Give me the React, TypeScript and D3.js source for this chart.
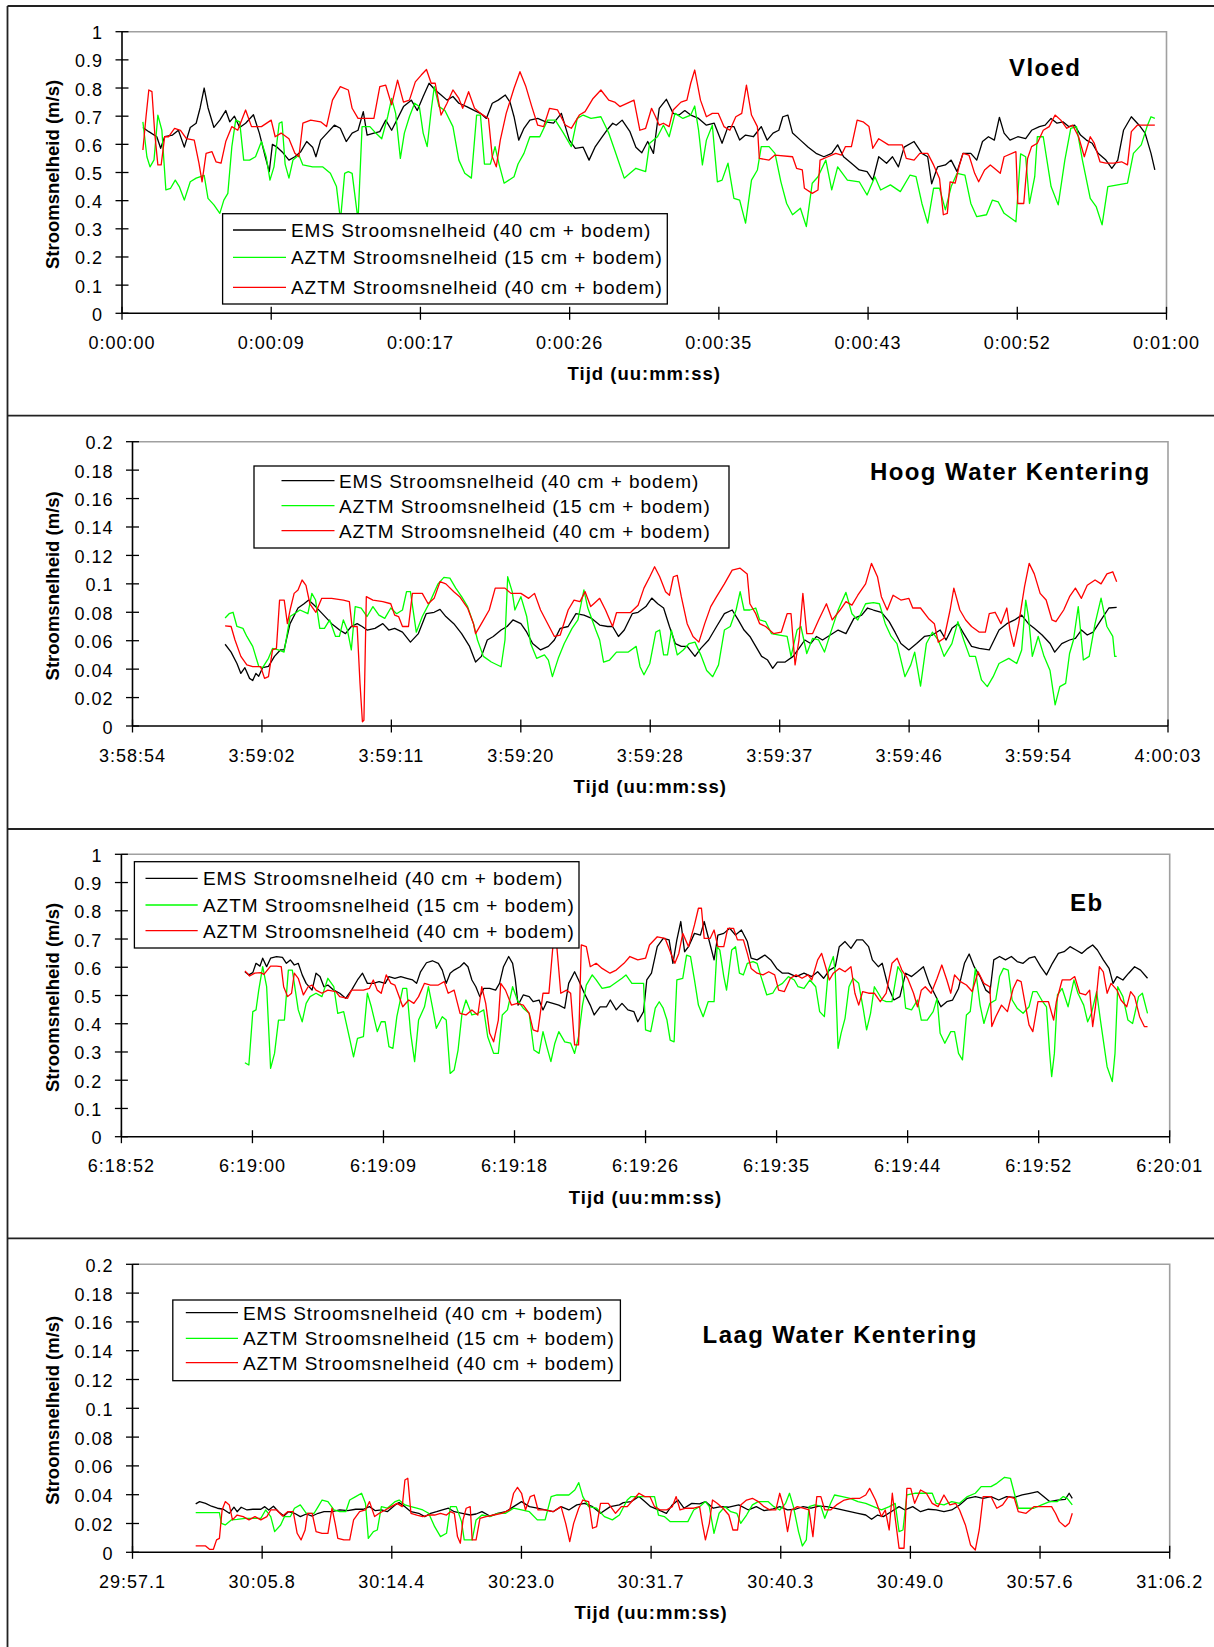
import React from "react";
import * as d3 from "d3";

// ---------------- DATA (time in seconds from axis start, speed in m/s) ----------------
const vloedTicks = ["0:00:00", "0:00:09", "0:00:17", "0:00:26", "0:00:35", "0:00:43", "0:00:52", "0:01:00"];
const hoogTicks = ["3:58:54", "3:59:02", "3:59:11", "3:59:20", "3:59:28", "3:59:37", "3:59:46", "3:59:54", "4:00:03"];
const ebTicks = ["6:18:52", "6:19:00", "6:19:09", "6:19:18", "6:19:26", "6:19:35", "6:19:44", "6:19:52", "6:20:01"];
const laagTicks = ["29:57.1", "30:05.8", "30:14.4", "30:23.0", "30:31.7", "30:40.3", "30:49.0", "30:57.6", "31:06.2"];

const seriesNames = [
  "EMS Stroomsnelheid (40 cm + bodem)",
  "AZTM Stroomsnelheid (15 cm + bodem)",
  "AZTM Stroomsnelheid (40 cm + bodem)",
];

const vloedEMS = [1.2,.66, 1.54,.645, 2.0,.627, 2.22,.586, 2.45,.627, 2.9,.633, 3.24,.65, 3.58,.59, 3.92,.66, 4.26,.675, 4.49,.73, 4.72,.80, 4.94,.73, 5.28,.66, 5.62,.686, 5.96,.72, 6.19,.68, 6.46,.70, 6.76,.66, 7.1,.675, 7.55,.705, 7.89,.64, 8.23,.556, 8.46,.503, 8.64,.60, 8.91,.59, 9.25,.57, 9.59,.544, 9.93,.556, 10.27,.574, 10.61,.61, 10.95,.59, 11.14,.556, 11.41,.615, 11.86,.645, 12.2,.668, 12.54,.657, 12.88,.61, 13.22,.64, 13.56,.65, 13.86,.716, 14.08,.633, 14.47,.64, 14.81,.645, 15.15,.686, 15.49,.65, 15.83,.692, 16.17,.734, 16.62,.757, 16.96,.72, 17.3,.77, 17.64,.817, 17.99,.793, 18.33,.775, 18.67,.757, 19.01,.77, 19.35,.746, 19.8,.734, 20.25,.72, 20.59,.71, 20.93,.692, 21.27,.746, 21.61,.757, 22.02,.775, 22.29,.75, 22.52,.698, 22.79,.615, 23.09,.657, 23.43,.686, 23.88,.692, 24.34,.68, 24.79,.675, 25.24,.71, 25.7,.615, 26.04,.586, 26.49,.59, 26.83,.544, 27.17,.59, 27.51,.62, 27.85,.65, 28.19,.675, 28.39,.668, 28.73,.686, 29.18,.645, 29.52,.59, 29.86,.57, 30.2,.61, 30.53,.568, 30.86,.728, 31.27,.76, 31.66,.71, 32.0,.704, 32.33,.72, 32.67,.704, 33.12,.692, 33.57,.668, 34.02,.675, 34.47,.604, 34.81,.663, 35.15,.663, 35.48,.615, 35.82,.633, 36.27,.627, 36.72,.663, 37.06,.615, 37.4,.64, 37.73,.65, 37.96,.698, 38.25,.704, 38.52,.64, 38.97,.615, 39.42,.59, 39.87,.568, 40.32,.556, 40.77,.568, 41.11,.598, 41.45,.556, 41.9,.533, 42.35,.509, 42.8,.503, 43.13,.473, 43.47,.556, 43.92,.533, 44.26,.556, 44.6,.52, 44.93,.59, 45.5,.61, 45.95,.568, 46.28,.556, 46.51,.46, 46.85,.52, 47.3,.527, 47.63,.544, 47.97,.503, 48.31,.568, 48.76,.568, 49.1,.544, 49.43,.61, 49.77,.627, 50.11,.615, 50.4,.696, 50.67,.64, 51.01,.615, 51.46,.627, 51.91,.62, 52.25,.65, 52.7,.663, 53.03,.668, 53.37,.692, 53.71,.675, 54.05,.68, 54.38,.663, 54.72,.668, 55.06,.633, 55.4,.615, 55.73,.604, 56.07,.568, 56.52,.544, 56.86,.515, 57.2,.544, 57.53,.65, 57.98,.698, 58.43,.668, 58.77,.64, 59.11,.568, 59.33,.509];
const vloedAZTM15 = [1.2,.68, 1.43,.556, 1.61,.52, 1.84,.545, 2.06,.704, 2.29,.65, 2.52,.438, 2.79,.444, 3.06,.473, 3.29,.45, 3.58,.402, 3.92,.467, 4.26,.48, 4.72,.49, 4.94,.408, 5.28,.385, 5.62,.355, 5.85,.402, 6.08,.426, 6.31,.592, 6.53,.686, 6.76,.68, 6.99,.544, 7.33,.544, 7.67,.556, 8.01,.61, 8.28,.556, 8.5,.473, 8.73,.52, 9.03,.675, 9.19,.68, 9.37,.53, 9.59,.48, 9.82,.544, 10.16,.562, 10.39,.527, 10.95,.52, 11.52,.52, 11.97,.497, 12.32,.45, 12.55,.33, 12.79,.497, 13.0,.503, 13.22,.497, 13.56,.33, 13.79,.663, 14.24,.663, 14.58,.64, 14.92,.62, 15.26,.698, 15.49,.763, 15.72,.71, 15.99,.55, 16.22,.64, 16.51,.698, 16.81,.746, 17.08,.734, 17.3,.64, 17.53,.592, 17.76,.72, 17.94,.805, 18.21,.734, 18.55,.72, 19.01,.663, 19.35,.544, 19.69,.497, 20.07,.48, 20.37,.704, 20.59,.704, 20.82,.53, 21.16,.53, 21.43,.592, 21.66,.53, 21.95,.462, 22.52,.485, 22.75,.53, 23.09,.568, 23.43,.627, 24.0,.627, 24.45,.686, 24.89,.686, 25.36,.64, 25.81,.592, 26.15,.692, 26.49,.704, 26.94,.692, 27.51,.698, 27.96,.64, 28.3,.58, 28.85,.48, 29.18,.497, 29.52,.515, 30.08,.503, 30.31,.604, 30.76,.627, 31.1,.668, 31.43,.627, 31.77,.71, 32.22,.692, 32.67,.704, 32.9,.736, 33.12,.65, 33.34,.527, 33.57,.615, 33.91,.668, 34.2,.467, 34.47,.473, 34.81,.533, 35.15,.408, 35.48,.402, 35.82,.32, 36.16,.473, 36.5,.509, 36.72,.592, 37.17,.592, 37.51,.568, 37.85,.467, 38.18,.39, 38.52,.35, 38.97,.373, 39.31,.308, 39.65,.462, 39.98,.485, 40.43,.544, 40.77,.438, 41.11,.52, 41.67,.473, 42.35,.467, 42.8,.42, 43.25,.485, 43.58,.438, 44.14,.456, 44.71,.432, 45.27,.491, 45.61,.485, 45.95,.39, 46.28,.32, 46.62,.444, 46.96,.444, 47.3,.367, 47.63,.45, 47.97,.497, 48.42,.491, 48.76,.39, 49.1,.343, 49.66,.35, 50.0,.402, 50.33,.396, 50.67,.355, 51.35,.325, 51.62,.566, 51.91,.556, 52.13,.39, 52.43,.485, 52.58,.627, 52.92,.627, 53.37,.45, 53.78,.385, 54.16,.544, 54.5,.657, 54.83,.663, 55.17,.544, 55.62,.408, 55.96,.379, 56.3,.314, 56.63,.45, 57.2,.456, 57.76,.462, 58.1,.568, 58.55,.598, 58.88,.663, 59.11,.698, 59.33,.692];
const vloedAZTM40 = [1.2,.58, 1.38,.698, 1.54,.793, 1.72,.787, 1.88,.64, 2.06,.527, 2.25,.527, 2.45,.627, 2.68,.627, 3.02,.657, 3.36,.65, 3.7,.62, 4.15,.615, 4.42,.533, 4.6,.467, 4.83,.568, 5.17,.574, 5.4,.538, 5.69,.533, 5.96,.61, 6.31,.663, 6.65,.65, 7.1,.722, 7.44,.663, 8.01,.663, 8.57,.686, 8.8,.627, 9.14,.64, 9.59,.62, 9.93,.568, 10.16,.556, 10.39,.675, 10.84,.686, 11.41,.68, 11.75,.663, 12.09,.757, 12.54,.805, 13.0,.793, 13.22,.728, 13.56,.692, 14.47,.692, 14.81,.805, 15.15,.81, 15.49,.74, 15.83,.828, 16.17,.75, 16.51,.757, 16.85,.822, 17.19,.846, 17.49,.866, 17.76,.817, 17.99,.817, 18.33,.704, 18.67,.746, 19.01,.793, 19.35,.763, 19.57,.728, 19.91,.787, 20.25,.728, 20.59,.71, 21.05,.692, 21.27,.556, 21.5,.52, 21.73,.615, 22.07,.71, 22.52,.799, 22.86,.858, 23.2,.805, 23.54,.734, 23.88,.668, 24.22,.663, 24.56,.728, 25.02,.722, 25.47,.668, 25.81,.657, 26.27,.704, 26.6,.716, 27.06,.763, 27.51,.793, 27.96,.757, 28.3,.75, 28.6,.734, 29.41,.757, 29.75,.65, 30.08,.657, 30.42,.728, 30.65,.698, 30.86,.668, 31.1,.675, 31.43,.663, 31.66,.722, 32.11,.75, 32.45,.757, 32.67,.817, 32.9,.864, 33.23,.757, 33.57,.698, 33.91,.71, 34.25,.71, 34.58,.663, 34.92,.65, 35.26,.698, 35.6,.71, 35.87,.81, 36.16,.704, 36.5,.663, 36.61,.55, 37.17,.544, 37.51,.562, 38.52,.556, 38.75,.515, 39.08,.509, 39.2,.444, 39.65,.426, 39.98,.438, 40.1,.544, 40.55,.556, 41.0,.568, 41.33,.562, 41.56,.592, 41.9,.592, 42.23,.686, 42.57,.68, 42.91,.663, 43.13,.586, 43.47,.62, 44.03,.598, 44.82,.598, 45.05,.55, 45.5,.544, 45.83,.568, 46.28,.568, 46.62,.527, 46.96,.479, 47.18,.35, 47.41,.355, 47.57,.467, 47.86,.462, 48.08,.52, 48.31,.568, 48.65,.562, 48.98,.497, 49.21,.467, 49.55,.509, 49.88,.527, 50.11,.515, 50.45,.497, 50.67,.556, 51.35,.574, 51.46,.39, 51.8,.39, 52.02,.55, 52.25,.592, 52.58,.604, 52.92,.65, 53.26,.663, 53.6,.704, 53.93,.686, 54.27,.657, 54.61,.668, 54.95,.627, 55.28,.556, 55.62,.627, 55.85,.604, 56.18,.538, 56.52,.533, 56.97,.533, 57.42,.538, 57.76,.527, 57.98,.645, 58.32,.668, 59.33,.668];

const hoogEMS = [6.17,.0575, 6.57,.052, 6.96,.044, 7.22,.037, 7.49,.041, 7.8,.0335, 8.01,.032, 8.22,.037, 8.41,.035, 8.67,.041, 9.06,.042, 9.46,.049, 9.85,.0535, 10.1,.0535, 10.5,.072, 11.03,.083, 11.43,.086, 11.74,.0886, 12.2,.084, 12.74,.078, 13.27,.072, 13.8,.0675, 14.19,.065, 14.58,.07, 14.97,.072, 15.3,.07, 15.63,.0675, 16.16,.0687, 16.68,.072, 17.08,.0675, 17.47,.0687, 17.99,.066, 18.52,.059, 19.05,.065, 19.57,.079, 20.1,.08, 20.49,.082, 20.88,.077, 21.41,.072, 21.93,.065, 22.46,.056, 22.86,.045, 23.25,.049, 23.64,.0605, 24.04,.063, 24.56,.0675, 24.96,.07, 25.35,.0746, 25.88,.072, 26.27,.066, 26.66,.058, 27.19,.0535, 27.71,.056, 28.11,.0605, 28.5,.0687, 29.03,.07, 29.55,.079, 30.08,.078, 30.6,.0757, 31.13,.071, 31.66,.07, 31.99,.07, 32.38,.063, 32.77,.0675, 33.3,.079, 33.69,.08, 34.21,.084, 34.6,.09, 35.0,.086, 35.39,.083, 35.78,.07, 36.17,.058, 36.57,.056, 36.96,.056, 37.48,.049, 37.87,.0546, 38.39,.0605, 38.92,.07, 39.44,.079, 39.96,.0816, 40.36,.0746, 40.75,.0675, 41.14,.063, 41.53,.056, 41.92,.049, 42.32,.0464, 42.66,.0406, 42.97,.045, 43.49,.045, 44.02,.049, 44.41,.0546, 44.8,.0605, 45.19,.058, 45.58,.063, 45.98,.0605, 46.5,.064, 47.02,.0675, 47.54,.065, 48.07,.0757, 48.59,.078, 48.98,.083, 49.37,.0816, 49.9,.08, 50.42,.0734, 50.81,.066, 51.2,.058, 51.73,.0535, 52.25,.058, 52.77,.063, 53.3,.064, 53.82,.0675, 54.21,.0605, 54.6,.0687, 55.0,.072, 55.39,.065, 55.91,.056, 56.43,.0546, 57.09,.0535, 57.74,.0675, 58.26,.072, 58.78,.0746, 59.25,.078, 59.7,.072, 60.09,.0687, 60.61,.064, 61.14,.058, 61.45,.052, 61.92,.058, 62.44,.0605, 62.83,.0617, 63.23,.0675, 63.62,.064, 64.01,.066, 64.54,.0746, 65.06,.083, 65.58,.0835];
const hoogAZTM15 = [6.17,.076, 6.44,.079, 6.7,.08, 6.96,.07, 7.36,.0687, 7.62,.063, 8.01,.056, 8.41,.042, 8.67,.041, 9.06,.0476, 9.33,.0546, 9.72,.0535, 10.1,.052, 10.5,.077, 11.16,.0816, 11.69,.079, 11.95,.0933, 12.2,.0886, 12.48,.0687, 12.79,.0687, 13.14,.0746, 13.53,.063, 13.79,.063, 14.05,.0746, 14.32,.0675, 14.58,.0535, 14.84,.084, 15.24,.083, 15.63,.077, 16.02,.084, 16.42,.078, 16.81,.0757, 17.21,.083, 17.6,.079, 17.99,.0816, 18.26,.0945, 18.52,.0945, 18.91,.066, 19.31,.077, 19.83,.0875, 20.36,.1, 20.75,.1046, 21.15,.104, 21.54,.097, 21.93,.091, 22.33,.084, 22.72,.072, 22.99,.0605, 23.38,.049, 23.91,.045, 24.56,.0417, 24.82,.0605, 25.0,.105, 25.3,.0945, 25.48,.0816, 25.88,.091, 26.27,.077, 26.53,.058, 26.93,.0476, 27.45,.05, 27.71,.0464, 27.98,.0347, 28.37,.0476, 28.77,.058, 29.29,.0687, 29.68,.0746, 30.08,.0957, 30.34,.083, 30.87,.0675, 31.13,.0605, 31.39,.045, 31.79,.0464, 32.25,.052, 33.04,.052, 33.56,.056, 33.82,.0417, 34.08,.036, 34.47,.044, 34.87,.066, 35.13,.0675, 35.39,.05, 35.65,.05, 35.91,.0675, 36.3,.05, 36.7,.0535, 37.09,.058, 37.48,.059, 37.87,.05, 38.26,.039, 38.66,.0347, 39.05,.043, 39.44,.0675, 39.83,.07, 40.22,.0816, 40.49,.0945, 40.75,.0816, 41.14,.0816, 41.53,.083, 41.79,.0746, 42.19,.0734, 42.58,.065, 43.1,.064, 43.62,.063, 43.88,.049, 44.28,.0675, 44.54,.07, 44.93,.051, 45.32,.0617, 45.72,.0605, 46.11,.052, 46.5,.065, 47.02,.0816, 47.54,.094, 47.94,.079, 48.33,.0746, 48.85,.086, 49.37,.0868, 49.77,.086, 50.16,.072, 50.55,.063, 50.94,.058, 51.47,.0347, 51.86,.043, 52.12,.052, 52.51,.028, 52.9,.058, 53.3,.066, 53.69,.0605, 54.08,.049, 54.6,.058, 55.0,.0734, 55.39,.0605, 55.78,.049, 56.17,.049, 56.57,.0324, 56.96,.0277, 57.35,.0347, 57.74,.044, 58.39,.0476, 58.92,.044, 59.25,.0535, 59.52,.0886, 59.7,.077, 59.96,.049, 60.35,.063, 60.74,.049, 61.14,.039, 61.48,.0148, 61.79,.0277, 62.18,.03, 62.44,.051, 62.7,.0605, 63.02,.084, 63.36,.0464, 63.75,.049, 64.14,.072, 64.54,.09, 64.93,.07, 65.32,.063, 65.45,.049, 65.58,.049];
const hoogAZTM40 = [6.17,.0704, 6.57,.07, 6.83,.0605, 7.22,.049, 7.62,.043, 8.01,.0417, 8.54,.0417, 8.8,.0335, 9.06,.0347, 9.33,.0535, 9.59,.0546, 9.8,.0886, 10.11,.0886, 10.32,.072, 10.5,.0816, 10.77,.0933, 11.03,.0957, 11.3,.1027, 11.56,.099, 11.82,.086, 12.22,.08, 12.61,.0898, 13.27,.0898, 14.05,.0886, 14.45,.0875, 14.63,.07, 14.97,.07, 15.16,.03, 15.32,.003, 15.42,.004, 15.58,.091, 16.02,.0886, 16.68,.0875, 17.21,.086, 17.47,.078, 17.73,.077, 17.99,.07, 18.39,.07, 18.65,.0933, 19.31,.0933, 19.7,.086, 20.1,.0898, 20.49,.1015, 20.88,.1, 21.41,.0945, 21.8,.091, 22.33,.083, 22.72,.072, 22.86,.065, 23.25,.072, 23.77,.0816, 24.17,.097, 24.82,.097, 25.22,.0933, 25.88,.0933, 26.4,.0898, 26.79,.0933, 27.19,.0816, 27.71,.071, 28.11,.063, 28.5,.064, 29.03,.0816, 29.42,.0886, 29.82,.0875, 30.16,.0945, 30.53,.084, 30.74,.086, 31.13,.0898, 31.52,.0816, 31.99,.07, 32.25,.0797, 33.17,.0797, 33.69,.085, 34.08,.097, 34.47,.105, 34.79,.112, 35.13,.105, 35.52,.0945, 35.78,.092, 36.04,.105, 36.3,.106, 36.57,.091, 36.96,.072, 37.35,.063, 37.74,.059, 38.13,.072, 38.53,.084, 38.92,.091, 39.44,.1, 39.96,.1097, 40.49,.111, 40.96,.107, 41.14,.086, 41.53,.079, 41.79,.072, 42.19,.07, 42.71,.065, 43.23,.066, 43.62,.079, 43.88,.079, 44.15,.043, 44.41,.0605, 44.67,.0933, 44.93,.065, 45.32,.065, 45.72,.0746, 46.24,.086, 46.63,.0746, 47.15,.0816, 47.54,.0875, 47.94,.085, 48.33,.092, 48.85,.1, 49.24,.1144, 49.64,.105, 49.9,.091, 50.29,.0816, 50.68,.092, 51.2,.0886, 51.73,.0898, 51.99,.083, 52.51,.083, 53.04,.0757, 53.43,.072, 53.69,.059, 54.08,.0617, 54.48,.0816, 54.73,.097, 55.13,.0816, 55.52,.0746, 55.91,.07, 56.43,.066, 56.83,.066, 57.09,.079, 57.48,.08, 57.87,.072, 58.26,.083, 58.47,.0675, 58.73,.056, 59.05,.072, 59.44,.098, 59.75,.1144, 60.09,.107, 60.48,.0933, 60.88,.0886, 61.27,.0746, 61.53,.0734, 62.05,.0816, 62.44,.091, 62.83,.097, 63.23,.0898, 63.62,.099, 64.14,.1027, 64.54,.1, 64.93,.107, 65.32,.1085, 65.58,.1015];

const ebEMS = [8.13,.584, 8.39,.573, 8.65,.581, 8.86,.614, 9.12,.604, 9.3,.632, 9.56,.602, 9.82,.632, 10.21,.638, 10.6,.635, 10.86,.614, 11.12,.626, 11.38,.608, 11.64,.614, 11.9,.573, 12.16,.543, 12.55,.519, 12.81,.579, 13.07,.567, 13.33,.531, 13.59,.537, 13.98,.519, 14.37,.508, 14.76,.49, 15.15,.519, 15.54,.555, 15.87,.579, 16.19,.543, 16.58,.543, 16.96,.549, 17.36,.543, 17.61,.567, 18.0,.561, 18.39,.567, 18.78,.561, 19.17,.555, 19.43,.543, 19.69,.584, 20.08,.616, 20.47,.623, 20.86,.614, 21.12,.59, 21.38,.543, 21.64,.579, 21.9,.59, 22.29,.602, 22.55,.616, 22.81,.602, 23.07,.555, 23.33,.531, 23.59,.496, 23.85,.525, 24.24,.525, 24.63,.519, 24.89,.543, 25.15,.602, 25.49,.638, 25.75,.614, 25.93,.555, 26.11,.466, 26.45,.502, 26.84,.496, 27.1,.478, 27.49,.484, 27.75,.449, 28.0,.478, 28.4,.472, 28.79,.466, 29.18,.455, 29.44,.543, 29.83,.584, 30.09,.555, 30.47,.508, 30.86,.466, 31.12,.431, 31.51,.46, 31.93,.46, 32.18,.484, 32.57,.449, 32.95,.472, 33.34,.449, 33.73,.443, 33.99,.407, 34.37,.443, 34.58,.555, 34.89,.579, 35.27,.673, 35.66,.702, 36.05,.697, 36.3,.614, 36.56,.697, 36.82,.762, 37.07,.655, 37.33,.673, 37.72,.72, 38.11,.714, 38.36,.762, 38.62,.708, 39.01,.626, 39.26,.714, 39.65,.72, 40.04,.738, 40.42,.714, 40.81,.732, 41.2,.691, 41.45,.632, 41.84,.626, 42.35,.643, 42.74,.626, 43.13,.596, 43.51,.579, 43.9,.579, 44.41,.567, 44.93,.579, 45.44,.567, 45.83,.584, 46.22,.561, 46.6,.59, 46.99,.602, 47.25,.673, 47.63,.691, 48.02,.667, 48.4,.697, 48.79,.697, 49.18,.673, 49.43,.626, 49.82,.602, 50.08,.614, 50.47,.531, 50.85,.484, 51.24,.496, 51.62,.579, 52.01,.567, 52.4,.584, 52.79,.602, 53.17,.543, 53.56,.502, 53.94,.46, 54.33,.478, 54.71,.484, 55.1,.525, 55.49,.614, 55.8,.647, 56.13,.602, 56.52,.567, 56.9,.519, 57.16,.508, 57.42,.626, 57.8,.638, 58.19,.626, 58.58,.638, 58.96,.62, 59.35,.614, 59.74,.632, 60.12,.638, 60.51,.602, 60.89,.573, 61.28,.614, 61.67,.649, 62.05,.655, 62.44,.673, 62.83,.661, 63.21,.649, 63.6,.667, 63.93,.679, 64.24,.661, 64.63,.626, 65.01,.596, 65.27,.543, 65.53,.567, 65.92,.555, 66.3,.579, 66.69,.602, 67.08,.59, 67.54,.561];
const ebAZTM15 = [8.13,.262, 8.39,.254, 8.65,.443, 8.86,.449, 9.04,.519, 9.3,.602, 9.56,.531, 9.82,.242, 10.08,.295, 10.34,.413, 10.73,.413, 10.99,.59, 11.25,.59, 11.64,.449, 11.9,.407, 12.16,.472, 12.42,.496, 12.81,.508, 13.2,.496, 13.59,.561, 13.98,.531, 14.24,.437, 14.63,.443, 15.02,.348, 15.28,.283, 15.54,.348, 15.93,.354, 16.19,.508, 16.45,.46, 16.84,.372, 17.1,.407, 17.36,.407, 17.61,.319, 17.87,.313, 18.13,.425, 18.52,.525, 18.78,.525, 19.04,.366, 19.3,.266, 19.56,.413, 19.95,.46, 20.21,.531, 20.47,.46, 20.73,.384, 21.12,.425, 21.38,.413, 21.64,.224, 21.9,.236, 22.16,.307, 22.42,.437, 22.68,.484, 23.07,.431, 23.46,.437, 23.85,.449, 24.11,.354, 24.5,.295, 24.81,.295, 25.07,.431, 25.41,.449, 25.75,.531, 26.06,.484, 26.45,.455, 26.84,.437, 27.15,.307, 27.49,.295, 27.75,.372, 28.0,.319, 28.27,.266, 28.53,.331, 28.79,.372, 29.18,.336, 29.57,.331, 29.83,.295, 30.09,.354, 30.35,.466, 30.6,.537, 30.99,.573, 31.25,.555, 31.64,.525, 32.16,.531, 32.95,.561, 33.21,.573, 33.6,.543, 34.37,.543, 34.5,.378, 34.84,.372, 35.14,.455, 35.4,.478, 35.66,.455, 35.91,.413, 36.12,.342, 36.38,.336, 36.56,.555, 36.95,.561, 37.2,.643, 37.46,.638, 37.72,.555, 37.98,.466, 38.29,.425, 38.62,.478, 39.01,.478, 39.21,.673, 39.39,.661, 39.65,.567, 39.83,.519, 40.17,.661, 40.42,.673, 40.68,.579, 40.94,.573, 41.2,.614, 41.58,.62, 41.84,.614, 42.1,.567, 42.48,.502, 42.87,.508, 43.13,.531, 43.51,.543, 43.9,.567, 44.29,.555, 44.54,.531, 44.93,.525, 45.32,.555, 45.7,.531, 45.96,.443, 46.27,.425, 46.53,.59, 46.86,.638, 46.99,.579, 47.17,.313, 47.37,.366, 47.63,.419, 47.89,.531, 48.15,.561, 48.53,.543, 48.84,.449, 49.05,.378, 49.31,.437, 49.56,.531, 49.82,.508, 50.08,.484, 50.34,.478, 50.72,.478, 51.11,.602, 51.37,.579, 51.62,.455, 52.01,.449, 52.4,.484, 52.65,.413, 53.04,.413, 53.43,.443, 53.69,.49, 53.89,.366, 54.2,.331, 54.59,.372, 54.84,.372, 55.1,.295, 55.36,.272, 55.62,.431, 55.87,.443, 56.21,.596, 56.52,.466, 56.77,.401, 57.16,.472, 57.55,.484, 57.8,.567, 58.06,.596, 58.37,.59, 58.63,.484, 58.96,.455, 59.35,.437, 59.74,.46, 59.99,.514, 60.25,.514, 60.64,.478, 60.89,.46, 61.1,.295, 61.23,.213, 61.41,.295, 61.61,.502, 61.92,.525, 62.31,.46, 62.7,.555, 62.96,.508, 63.34,.466, 63.6,.407, 63.85,.437, 64.19,.514, 64.44,.413, 64.88,.248, 65.22,.195, 65.4,.295, 65.58,.531, 65.92,.496, 66.25,.413, 66.56,.401, 66.95,.496, 67.2,.508, 67.54,.437];
const ebAZTM40 = [8.13,.587, 8.44,.569, 8.78,.579, 9.17,.581, 9.38,.575, 9.82,.604, 10.21,.604, 10.52,.602, 10.68,.531, 10.94,.496, 11.2,.508, 11.38,.579, 11.64,.561, 11.98,.502, 12.29,.531, 12.55,.537, 12.81,.519, 13.2,.508, 13.59,.519, 14.11,.514, 14.37,.496, 14.89,.49, 15.15,.519, 15.93,.519, 16.32,.525, 16.58,.555, 16.84,.519, 17.1,.508, 17.43,.573, 17.74,.543, 18.0,.537, 18.32,.49, 18.52,.46, 18.91,.484, 19.25,.472, 19.56,.496, 19.95,.543, 20.34,.537, 20.86,.537, 21.25,.549, 21.51,.508, 21.9,.519, 22.29,.437, 22.68,.431, 23.07,.449, 23.46,.431, 23.72,.531, 23.98,.472, 24.24,.366, 24.5,.336, 24.81,.413, 24.97,.543, 25.28,.519, 25.67,.466, 26.06,.472, 26.45,.466, 26.84,.437, 27.1,.378, 27.41,.372, 27.75,.508, 28.14,.508, 28.4,.673, 28.66,.673, 28.92,.508, 29.3,.519, 29.57,.508, 29.83,.325, 30.09,.325, 30.27,.679, 30.6,.673, 30.86,.602, 31.25,.614, 31.64,.596, 32.16,.579, 32.57,.59, 33.08,.614, 33.47,.638, 33.99,.626, 34.5,.632, 34.76,.679, 35.27,.708, 35.79,.702, 36.17,.649, 36.43,.614, 36.69,.649, 36.95,.72, 37.33,.673, 37.72,.75, 37.98,.809, 38.18,.809, 38.36,.702, 38.75,.702, 39.01,.732, 39.26,.673, 39.65,.673, 39.91,.738, 40.29,.738, 40.55,.697, 40.94,.697, 41.2,.649, 41.45,.596, 41.84,.579, 42.23,.573, 42.61,.584, 43.0,.573, 43.26,.519, 43.64,.514, 44.03,.561, 44.41,.573, 44.8,.561, 45.19,.573, 45.44,.555, 45.83,.626, 46.09,.649, 46.35,.602, 46.6,.555, 46.86,.579, 47.25,.596, 47.63,.584, 48.02,.602, 48.28,.508, 48.53,.466, 48.79,.514, 49.18,.508, 49.56,.508, 49.95,.478, 50.34,.508, 50.72,.614, 51.06,.632, 51.37,.59, 51.75,.561, 52.14,.508, 52.4,.46, 52.65,.519, 52.91,.531, 53.3,.508, 53.69,.561, 54.0,.608, 54.33,.555, 54.59,.508, 54.84,.573, 55.23,.549, 55.62,.537, 56.0,.514, 56.39,.584, 56.77,.543, 57.16,.531, 57.29,.39, 57.55,.425, 57.93,.466, 58.32,.443, 58.7,.525, 58.96,.555, 59.22,.549, 59.48,.472, 59.74,.396, 59.99,.372, 60.33,.478, 61.02,.478, 61.36,.413, 61.54,.478, 61.92,.555, 62.44,.555, 62.75,.567, 63.08,.508, 63.47,.502, 63.73,.519, 63.93,.39, 64.11,.46, 64.37,.602, 64.63,.584, 64.88,.508, 65.14,.543, 65.53,.519, 65.79,.484, 66.17,.46, 66.43,.514, 66.69,.496, 67.02,.425, 67.33,.39, 67.54,.39];

const laagEMS = [4.21,.0336, 4.47,.0352, 4.87,.034, 5.26,.032, 5.66,.0306, 6.05,.0299, 6.45,.0271, 6.76,.0313, 6.97,.0282, 7.24,.0313, 7.63,.0294, 8.02,.0299, 8.55,.0299, 8.81,.0317, 9.08,.0294, 9.39,.032, 9.73,.0282, 10.08,.0252, 10.39,.0282, 10.79,.0271, 11.18,.0248, 11.58,.0266, 11.97,.0252, 12.37,.0271, 12.76,.0282, 13.29,.0282, 13.81,.0294, 14.34,.0289, 14.87,.0299, 15.39,.0299, 15.79,.0317, 16.18,.0289, 16.58,.0294, 16.97,.0282, 17.5,.0329, 17.76,.0345, 18.15,.0317, 18.55,.0282, 19.07,.0271, 19.47,.0248, 19.86,.0271, 20.26,.0282, 20.65,.0294, 21.05,.0306, 21.44,.0282, 21.97,.0271, 22.5,.0259, 22.89,.0266, 23.28,.0282, 23.81,.0252, 24.34,.0271, 24.86,.0282, 25.39,.0317, 25.92,.0352, 26.44,.0317, 26.97,.0306, 27.49,.0294, 28.02,.0282, 28.55,.0317, 29.07,.0294, 29.6,.0329, 30.12,.034, 30.65,.0317, 31.18,.0271, 31.83,.0317, 32.44,.0329, 32.7,.0345, 33.22,.0352, 33.74,.0387, 34.13,.0352, 34.52,.0317, 35.04,.0294, 35.57,.0271, 35.96,.0329, 36.35,.0363, 36.74,.0306, 37.26,.034, 37.78,.0336, 38.17,.0352, 38.69,.0306, 39.21,.0317, 39.73,.0313, 40.39,.0329, 41.04,.0294, 41.56,.0317, 42.08,.0289, 42.6,.0299, 43.12,.0317, 43.64,.0294, 44.16,.0299, 44.68,.0317, 45.2,.0306, 45.73,.032, 46.25,.0317, 46.77,.0306, 47.29,.0294, 47.81,.0282, 48.33,.0271, 48.85,.0259, 49.24,.0229, 49.64,.0259, 50.02,.0248, 50.54,.0282, 51.07,.0317, 51.46,.0294, 51.98,.0317, 52.5,.0282, 53.02,.0299, 53.54,.0294, 54.06,.0282, 54.58,.0294, 55.1,.0329, 55.62,.0375, 56.15,.0387, 56.67,.0375, 57.19,.0387, 57.71,.0363, 58.23,.0387, 58.75,.0382, 59.27,.0398, 59.79,.041, 60.31,.0421, 60.7,.0387, 61.1,.0352, 61.62,.0363, 62.14,.0368, 62.4,.041, 62.61,.0375];
const laagAZTM15 = [4.21,.0275, 5.79,.0275, 5.92,.0201, 6.18,.019, 6.58,.0225, 6.97,.0229, 7.5,.0236, 8.55,.0236, 8.87,.0294, 9.21,.0248, 9.47,.0144, 9.87,.019, 10.13,.0248, 10.52,.0248, 10.79,.0306, 11.18,.0329, 11.58,.0271, 12.1,.0271, 12.37,.0317, 12.63,.0363, 13.02,.0352, 13.42,.0294, 13.81,.0282, 14.21,.0282, 14.47,.0363, 14.87,.0387, 15.26,.041, 15.52,.034, 15.71,.0097, 16.05,.0144, 16.31,.0155, 16.58,.0317, 16.97,.0306, 17.23,.0329, 17.5,.0352, 17.76,.0363, 18.15,.0329, 18.55,.0317, 18.94,.0306, 19.34,.0294, 19.73,.0271, 20.13,.0178, 20.52,.0109, 20.92,.0132, 21.18,.0317, 21.57,.0317, 21.92,.0213, 22.1,.0086, 22.63,.0086, 22.89,.0225, 23.28,.0259, 23.81,.0248, 24.34,.0271, 24.86,.0271, 25.39,.0306, 25.92,.0294, 26.44,.0282, 26.97,.0225, 27.49,.0225, 27.89,.0387, 28.28,.0398, 29.07,.0398, 29.47,.0433, 29.73,.0484, 30.0,.0387, 30.39,.0317, 30.92,.0306, 31.44,.0248, 31.97,.0225, 32.44,.0259, 32.96,.0363, 33.22,.0387, 34.78,.0387, 35.04,.0259, 35.43,.0248, 35.83,.0213, 37.0,.0213, 37.39,.0294, 37.78,.0317, 38.17,.0352, 38.43,.0317, 38.74,.0132, 39.08,.0271, 39.47,.0317, 39.86,.0282, 40.26,.0271, 40.52,.0201, 40.91,.0259, 41.3,.0329, 41.69,.0352, 42.34,.0352, 42.73,.0317, 43.12,.0294, 43.51,.034, 43.77,.041, 44.03,.0317, 44.37,.0144, 44.63,.0044, 44.89,.0086, 45.07,.0317, 45.46,.0329, 45.86,.032, 46.12,.0236, 46.51,.034, 46.77,.0398, 47.29,.0387, 47.81,.0375, 48.33,.0352, 48.85,.034, 49.37,.0317, 49.9,.0294, 50.42,.0317, 50.81,.034, 51.07,.0144, 51.33,.0155, 51.59,.0398, 52.11,.041, 53.28,.041, 53.54,.034, 54.06,.0329, 54.58,.0352, 55.1,.034, 55.62,.0387, 56.15,.041, 56.54,.0456, 57.19,.0456, 57.58,.0479, 58.1,.0521, 58.49,.0514, 58.75,.041, 59.01,.0306, 60.05,.0306, 60.57,.0329, 61.1,.0352, 61.62,.0352, 62.01,.0387, 62.27,.0375, 62.61,.0329];
const laagAZTM40 = [4.21,.0044, 4.87,.0044, 5.13,.0021, 5.39,.0021, 5.6,.0086, 5.79,.0097, 5.97,.0294, 6.18,.0352, 6.45,.0329, 6.66,.0225, 6.97,.0259, 7.37,.0248, 7.76,.0225, 8.16,.0248, 8.55,.0225, 8.95,.0248, 9.21,.0294, 9.6,.0294, 10.0,.0252, 10.34,.0282, 10.71,.0282, 10.97,.0132, 11.23,.0086, 11.5,.0155, 11.66,.0271, 11.97,.0271, 12.23,.0144, 12.63,.0132, 13.02,.0132, 13.29,.0306, 13.5,.0201, 13.68,.0097, 14.08,.0086, 14.47,.0086, 14.73,.0225, 15.13,.0282, 15.52,.0294, 15.79,.0352, 16.13,.0248, 16.44,.0271, 16.84,.0294, 17.23,.0317, 17.63,.034, 17.97,.0317, 18.15,.0502, 18.34,.0514, 18.55,.0271, 18.94,.0259, 19.34,.0248, 19.73,.0259, 20.13,.0259, 20.52,.0271, 20.92,.0259, 21.18,.0282, 21.44,.0271, 21.65,.0109, 21.84,.0063, 22.02,.0225, 22.23,.0306, 22.5,.0317, 22.63,.0086, 22.89,.0086, 23.15,.0236, 23.55,.0248, 24.07,.0259, 24.6,.0271, 25.13,.0294, 25.39,.041, 25.65,.0451, 25.92,.041, 26.18,.0294, 26.5,.0387, 26.76,.0398, 27.02,.0294, 27.49,.0294, 28.02,.0282, 28.55,.0317, 28.86,.0201, 29.13,.0074, 29.39,.0201, 29.73,.0306, 30.0,.0363, 30.39,.0352, 30.65,.0167, 30.92,.0178, 31.18,.034, 31.7,.034, 32.18,.0271, 32.57,.0317, 32.96,.0317, 33.35,.0363, 33.74,.041, 34.13,.0387, 34.47,.0387, 34.78,.0317, 35.17,.0294, 35.57,.0294, 35.96,.0317, 36.22,.0387, 36.48,.0294, 36.87,.0306, 37.39,.0306, 37.78,.0317, 37.96,.0201, 38.17,.0086, 38.43,.0201, 38.64,.0363, 38.95,.034, 39.34,.0306, 39.73,.0259, 40.0,.0155, 40.31,.0155, 40.52,.0329, 40.91,.0363, 41.3,.0375, 41.69,.0352, 42.08,.0317, 42.47,.0294, 42.86,.0294, 43.12,.041, 43.38,.0317, 43.64,.0144, 43.9,.0294, 44.29,.0317, 44.68,.0306, 45.07,.0294, 45.33,.0109, 45.59,.0387, 45.86,.0387, 46.12,.0294, 46.51,.0294, 46.9,.0329, 47.42,.0363, 47.94,.0375, 48.46,.0375, 48.85,.0398, 49.11,.0444, 49.5,.0363, 49.89,.0248, 50.15,.0294, 50.41,.0155, 50.62,.041, 50.8,.0248, 51.07,.0028, 51.4,.0028, 51.59,.0444, 51.85,.0444, 52.11,.034, 52.5,.0433, 52.89,.041, 53.28,.034, 53.67,.0317, 54.06,.0398, 54.45,.0329, 54.84,.034, 55.1,.0294, 55.49,.019, 55.83,.0051, 56.15,.0016, 56.41,.0155, 56.67,.0387, 57.19,.0387, 57.58,.0306, 57.97,.0329, 58.36,.0387, 58.75,.0375, 59.01,.0282, 59.53,.0271, 60.05,.0317, 61.23,.0317, 61.49,.0271, 61.75,.0213, 62.14,.0178, 62.4,.0201, 62.61,.0271];

// ---------------- LAYOUT / STYLE ----------------
const COLORS = ["#000000", "#00ff00", "#ff0000"];
const FONT = "'Liberation Sans', Arial, sans-serif";
const FRAME_LINES = [6, 415.7, 829, 1238.3];

type Pt = [number, number];
function pairs(a: number[]): Pt[] {
  const out: Pt[] = [];
  for (let i = 0; i + 1 < a.length; i += 2) out.push([a[i], a[i + 1]]);
  return out;
}

type PanelCfg = {
  title: string;
  titleX: number;
  titleY: number;
  xMax: number;
  yMax: number;
  yDiv: number;
  xLabels: string[];
  series: number[][];
  plot: { left: number; right: number; top: number; bottom: number };
  legend: { x0: number; y0: number; x1: number; y1: number; rows: number[]; lx0: number; lx1: number; tx: number };
};

const panels: PanelCfg[] = [
  {
    title: "Vloed", titleX: 1009, titleY: 76,
    xMax: 60, yMax: 1, yDiv: 10, xLabels: vloedTicks,
    series: [vloedEMS, vloedAZTM15, vloedAZTM40],
    plot: { left: 122, right: 1166.5, top: 31.7, bottom: 313.3 },
    legend: { x0: 222.6, y0: 213.7, x1: 667.3, y1: 304, rows: [230, 257.3, 287.3], lx0: 233, lx1: 286, tx: 291 },
  },
  {
    title: "Hoog Water Kentering", titleX: 870, titleY: 480,
    xMax: 69, yMax: 0.2, yDiv: 10, xLabels: hoogTicks,
    series: [hoogEMS, hoogAZTM15, hoogAZTM40],
    plot: { left: 132.5, right: 1168, top: 441.7, bottom: 726 },
    legend: { x0: 254, y0: 466, x1: 729, y1: 548, rows: [480.7, 505.7, 530.7], lx0: 281.5, lx1: 334.5, tx: 339 },
  },
  {
    title: "Eb", titleX: 1070, titleY: 910.7,
    xMax: 69, yMax: 1, yDiv: 10, xLabels: ebTicks,
    series: [ebEMS, ebAZTM15, ebAZTM40],
    plot: { left: 121.4, right: 1169.7, top: 854.3, bottom: 1136.7 },
    legend: { x0: 134.4, y0: 861.7, x1: 579, y1: 948, rows: [878.3, 905, 930.7], lx0: 145.5, lx1: 197.7, tx: 203 },
  },
  {
    title: "Laag Water Kentering", titleX: 702.6, titleY: 1343.3,
    xMax: 69.1, yMax: 0.2, yDiv: 10, xLabels: laagTicks,
    series: [laagEMS, laagAZTM15, laagAZTM40],
    plot: { left: 132.5, right: 1169.7, top: 1264.3, bottom: 1552.3 },
    legend: { x0: 172.8, y0: 1300, x1: 620.4, y1: 1380.7, rows: [1312.7, 1338.3, 1362.7], lx0: 185.8, lx1: 238, tx: 243 },
  },
];

function Panel({ cfg }: { cfg: PanelCfg }) {
  const { plot, legend } = cfg;
  const x = d3.scaleLinear().domain([0, cfg.xMax]).range([plot.left, plot.right]);
  const y = d3.scaleLinear().domain([0, cfg.yMax]).range([plot.bottom, plot.top]);
  const line = d3.line<Pt>().x((d) => x(d[0])).y((d) => y(d[1]));
  const yTicks = d3.range(cfg.yDiv + 1).map((i) => +((i * cfg.yMax) / cfg.yDiv).toFixed(4));
  const nX = cfg.xLabels.length - 1;
  const xTicks = cfg.xLabels.map((_, i) => (i * cfg.xMax) / nX);
  const fmt = d3.format("~g");
  const cy = (plot.top + plot.bottom) / 2 + 2;
  const cx = (plot.left + plot.right) / 2;

  return (
    <g>
      <path
        d={`M${plot.left},${plot.top}H${plot.right}V${plot.bottom}`}
        fill="none" stroke="#a0a0a0" strokeWidth={1.6}
      />
      {cfg.series.map((s, i) => (
        <path key={i} d={line(pairs(s)) || ""} fill="none" stroke={COLORS[i]} strokeWidth={1.3} strokeLinejoin="round" />
      ))}
      <line x1={plot.left} x2={plot.left} y1={plot.top} y2={plot.bottom} stroke="#000" strokeWidth={1.6} />
      <line x1={plot.left} x2={plot.right} y1={plot.bottom} y2={plot.bottom} stroke="#000" strokeWidth={1.6} />
      {yTicks.map((t, i) => (
        <g key={"y" + i}>
          <line x1={plot.left - 6.5} x2={plot.left + 6.5} y1={y(t)} y2={y(t)} stroke="#000" strokeWidth={1.3} />
          <text x={plot.left - 19} y={y(t) + 7.5} textAnchor="end" fontSize={18} letterSpacing={1} fill="#000">
            {fmt(t)}
          </text>
        </g>
      ))}
      {xTicks.map((t, i) => (
        <g key={"x" + i}>
          <line x1={x(t)} x2={x(t)} y1={plot.bottom - 6.5} y2={plot.bottom + 6.5} stroke="#000" strokeWidth={1.3} />
          <text x={x(t)} y={plot.bottom + 35.5} textAnchor="middle" fontSize={18} letterSpacing={1} fill="#000">
            {cfg.xLabels[i]}
          </text>
        </g>
      ))}
      <text x={cx} y={plot.bottom + 67} textAnchor="middle" fontSize={18.5} fontWeight="bold" letterSpacing={1} fill="#000">
        Tijd (uu:mm:ss)
      </text>
      <text transform={`translate(58.5,${cy}) rotate(-90)`} textAnchor="middle" fontSize={18.5} fontWeight="bold" fill="#000">
        Stroomsnelheid (m/s)
      </text>
      <text x={cfg.titleX} y={cfg.titleY} fontSize={24} fontWeight="bold" letterSpacing={1.4} fill="#000">
        {cfg.title}
      </text>
      <rect x={legend.x0} y={legend.y0} width={legend.x1 - legend.x0} height={legend.y1 - legend.y0}
        fill="#fff" stroke="#000" strokeWidth={1.3} />
      {seriesNames.map((name, i) => (
        <g key={"l" + i}>
          <line x1={legend.lx0} x2={legend.lx1} y1={legend.rows[i]} y2={legend.rows[i]} stroke={COLORS[i]} strokeWidth={1.3} />
          <text x={legend.tx} y={legend.rows[i] + 7} fontSize={19} letterSpacing={0.95} fill="#000">
            {name}
          </text>
        </g>
      ))}
    </g>
  );
}

export default function App() {
  return (
    <div style={{ position: "absolute", left: 0, top: 0, width: 1214, height: 1647, background: "#fff" }}>
      <svg width={1214} height={1647} style={{ display: "block", fontFamily: FONT }}>
        <rect x={0} y={0} width={1214} height={1647} fill="#fff" />
        {FRAME_LINES.map((fy, i) => (
          <line key={i} x1={7.5} x2={1214} y1={fy} y2={fy} stroke="#222" strokeWidth={1.8} />
        ))}
        <line x1={7.5} x2={7.5} y1={FRAME_LINES[0]} y2={1647} stroke="#222" strokeWidth={1.8} />
        {panels.map((p, i) => (
          <Panel key={i} cfg={p} />
        ))}
      </svg>
    </div>
  );
}
